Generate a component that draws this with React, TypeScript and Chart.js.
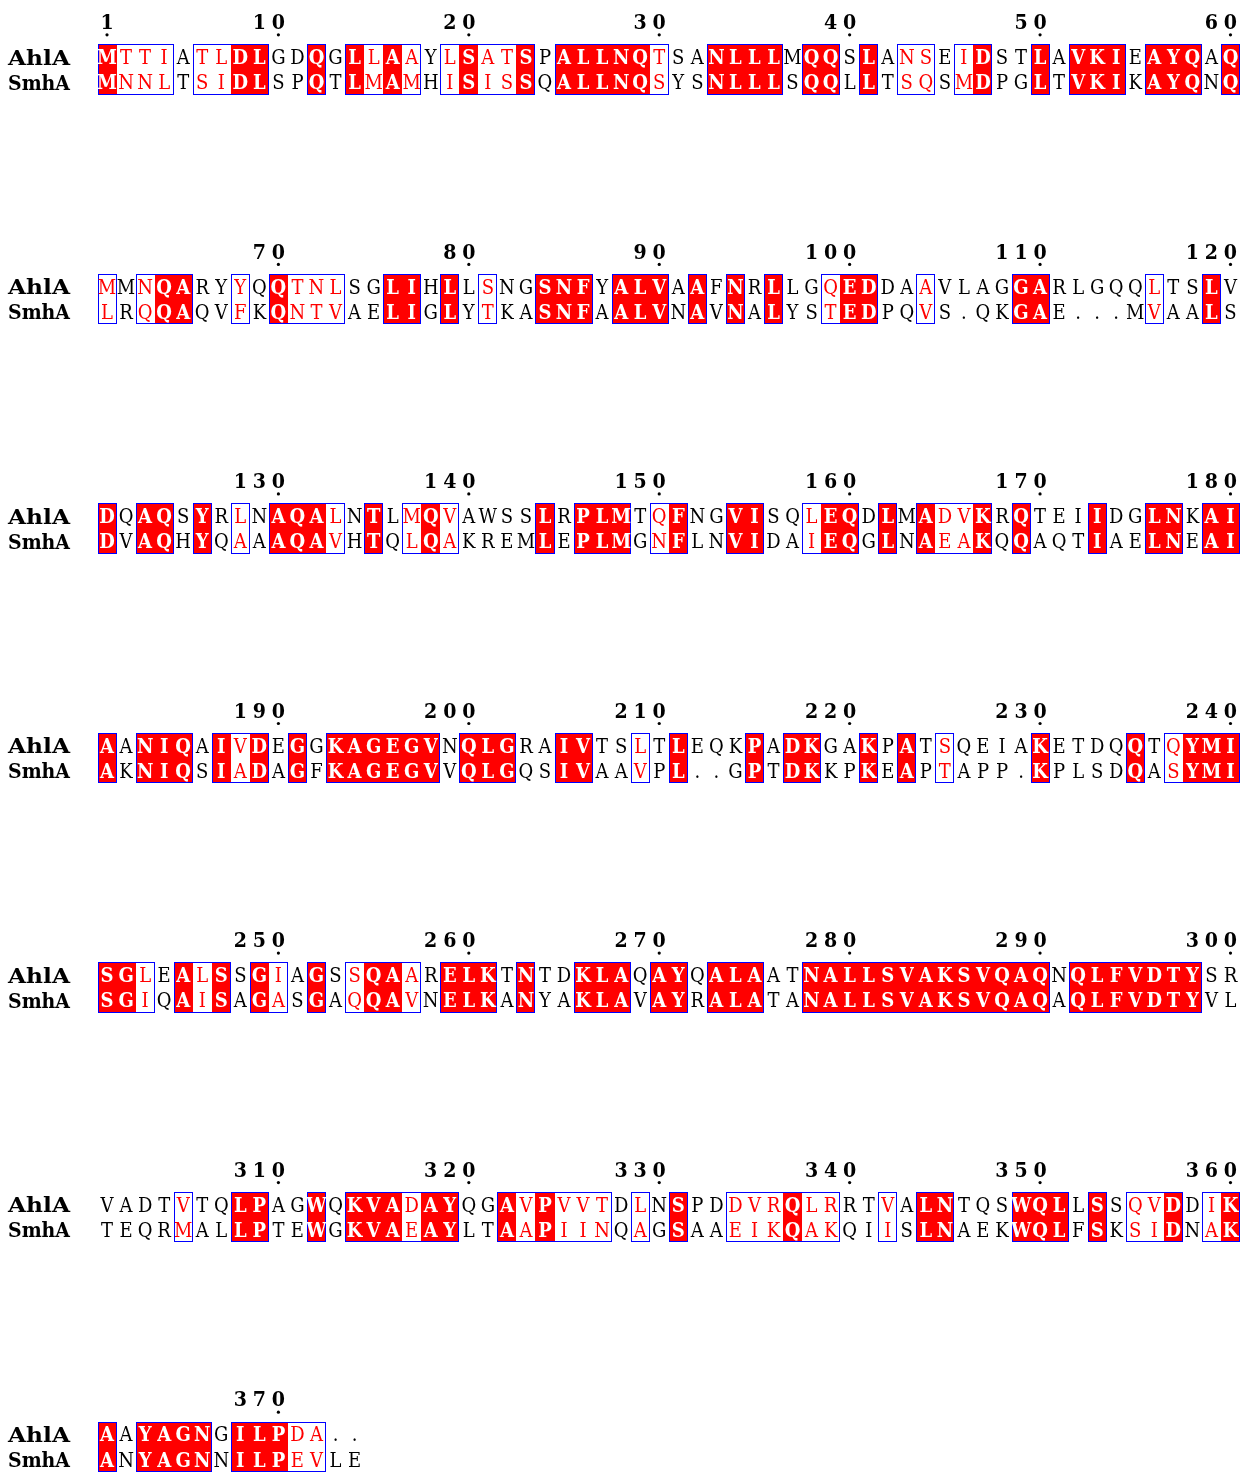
import React, { useEffect, useRef } from "react";
import { Chart, registerables } from "chart.js";

Chart.register(...registerables);

// ---------------- data ----------------
const sequenceNames = ["AhlA", "SmhA"];
const blockStarts = [1, 61, 121, 181, 241, 301, 361];

const ahlaBlocks = [
  "MTTIATLDLGDQGLLAAYLSATSPALLNQTSANLLLMQQSLANSEIDSTLAVKIEAYQAQ",
  "MMNQARYYQQTNLSGLIHLLSNGSNFYALVAAFNRLLGQEDDAAVLAGGARLGQQLTSLV",
  "DQAQSYRLNAQALNTLMQVAWSSLRPLMTQFNGVISQLEQDLMADVKRQTEIIDGLNKAI",
  "AANIQAIVDEGGKAGEGVNQLGRAIVTSLTLEQKPADKGAKPATSQEIAKETDQQTQYMI",
  "SGLEALSSGIAGSSQAARELKTNTDKLAQAYQALAATNALLSVAKSVQAQNQLFVDTYSR",
  "VADTVTQLPAGWQKVADAYQGAVPVVTDLNSPDDVRQLRRTVALNTQSWQLLSSQVDDIK",
  "AAYAGNGILPDA..",
];

const smhaBlocks = [
  "MNNLTSIDLSPQTLMAMHISISSQALLNQSYSNLLLSQQLLTSQSMDPGLTVKIKAYQNQ",
  "LRQQAQVFKQNTVAELIGLYTKASNFAALVNAVNALYSTEDPQVS.QKGAE...MVAALS",
  "DVAQHYQAAAQAVHTQLQAKREMLEPLMGNFLNVIDAIEQGLNAEAKQQAQTIAELNEAI",
  "AKNIQSIADAGFKAGEGVVQLGQSIVAAVPL..GPTDKKPKEAPTAPP.KPLSDQASYMI",
  "SGIQAISAGASGAQQAVNELKANYAKLAVAYRALATANALLSVAKSVQAQAQLFVDTYVL",
  "TEQRMALLPTEWGKVAEAYLTAAPIINQAGSAAEIKQAKQIISLNAEKWQLFSKSIDNAK",
  "ANYAGNNILPEVLE",
];

// r = identical (red box), s = similar (red letters, framed), n = not conserved
const conservationBlocks = [
  "rsssnssrrnnrnrsrsnsrssrnrrrrrsnnrrrrnrrnrnssnsrnnrnrrrnrrrnr",
  "snsrrnnsnrsssnnrrnrnsnnrrrnrrrnrnrnrnnsrrnnsnnnnrrnnnnnsnnrn",
  "rnrrnrnsnrrrsnrnsrsnnnnrnrrrnsrnnrrnnsrrnrnrssrnrnnnrnnrrnrr",
  "rnrrrnrsrnrnrrrrrrnrrrnnrrnnsnrnnnrnrrnnrnrnsnnnnrnnnnrnsrrr",
  "rrsnrsrnrsnrnsrrsnrrrnrnnrrrnrrnrrrnnrrrrrrrrrrrrrnrrrrrrrnn",
  "nnnnsnnrrnnrnrrrsrrnnrsrsssnsnrnnsssrssnnsnrrnnnrrrnrnssrnsr",
  "rnrrrrnrrrssnn",
];

const tickNumbers = [
  1, 10, 20, 30, 40, 50, 60, 70, 80, 90, 100, 110, 120, 130, 140, 150, 160,
  170, 180, 190, 200, 210, 220, 230, 240, 250, 260, 270, 280, 290, 300, 310,
  320, 330, 340, 350, 360, 370,
];

// ---------------- layout ----------------
const W = 1254;
const H = 1476;
const COLS = 60;
const BLOCK_PITCH = 230.8;
const LABEL_Y = 18;
const DOT_Y = 31;
const ROW_TOP = 40.5;
const ROW_H = 25.25;

const RED = "#ff0000";
const BLUE = "#0000ff";
const SERIF = '"DejaVu Serif", "Liberation Serif", serif';
const RES_SIZE = 20;
const RES_SX = 0.9;
const NAME_SIZE = 21;
const NAME_W = 62;
const NUM_SIZE = 20;
const NUM_SX = 0.95;
const CAP = 0.73;

function blockOf(n: number) {
  let b = 0;
  for (let i = 0; i < blockStarts.length; i++) if (n >= blockStarts[i]) b = i;
  return b;
}

function glyph(ctx: CanvasRenderingContext2D, ch: string, x: number, y: number, sx: number) {
  ctx.save();
  ctx.translate(x, y);
  ctx.scale(sx, 1);
  ctx.fillText(ch, 0, 0);
  ctx.restore();
}

const alignmentPlugin = {
  id: "alignment",
  afterDraw(chart: any) {
    const ctx: CanvasRenderingContext2D = chart.ctx;
    const xs = chart.scales.x;
    const ys = chart.scales.y;
    const edge = (i: number) => Math.round(xs.getPixelForValue(i + 0.5));
    ctx.save();
    blockStarts.forEach((start, b) => {
      const rows = [ahlaBlocks[b], smhaBlocks[b]];
      const cls = conservationBlocks[b];
      const off = b * BLOCK_PITCH;
      const top = Math.round(ys.getPixelForValue(off + ROW_TOP));
      const bot = Math.round(ys.getPixelForValue(off + ROW_TOP + 2 * ROW_H));

      // identical columns: red boxes
      ctx.fillStyle = RED;
      for (let i = 0; i < cls.length; i++) {
        if (cls[i] === "r") {
          const x0 = edge(i);
          const x1 = edge(i + 1);
          ctx.fillRect(x0, top, x1 - x0, bot - top);
        }
      }

      // frames around conserved runs
      ctx.strokeStyle = BLUE;
      ctx.lineWidth = 1;
      let i = 0;
      while (i < cls.length) {
        if (cls[i] !== "n") {
          let j = i;
          while (j + 1 < cls.length && cls[j + 1] !== "n") j++;
          const x0 = edge(i);
          const x1 = edge(j + 1);
          ctx.strokeRect(x0 + 0.5, top + 0.5, x1 - x0 - 1, bot - top - 1);
          i = j + 1;
        } else i++;
      }

      // residues
      ctx.textAlign = "center";
      ctx.textBaseline = "alphabetic";
      rows.forEach((seq, r) => {
        const cy = ys.getPixelForValue(off + ROW_TOP + (r + 0.5) * ROW_H);
        for (let k = 0; k < seq.length; k++) {
          const c = cls[k];
          const cx = xs.getPixelForValue(k + 1);
          if (c === "r") {
            ctx.font = `bold ${RES_SIZE}px ${SERIF}`;
            ctx.fillStyle = "#ffffff";
          } else if (c === "s") {
            ctx.font = `${RES_SIZE}px ${SERIF}`;
            ctx.fillStyle = RED;
          } else {
            ctx.font = `${RES_SIZE}px ${SERIF}`;
            ctx.fillStyle = "#000000";
          }
          glyph(ctx, seq[k], cx, cy + (RES_SIZE * CAP) / 2, RES_SX);
        }
        // sequence name, stretched to its column width
        ctx.font = `bold ${NAME_SIZE}px ${SERIF}`;
        ctx.fillStyle = "#000000";
        ctx.textAlign = "left";
        const name = sequenceNames[r];
        const wname = ctx.measureText(name).width;
        glyph(ctx, name, 8, cy + (NAME_SIZE * CAP) / 2, NAME_W / wname);
        ctx.textAlign = "center";
      });

      // numbering
      ctx.font = `bold ${NUM_SIZE}px ${SERIF}`;
      ctx.fillStyle = "#000000";
      const ly = ys.getPixelForValue(off + LABEL_Y);
      tickNumbers.forEach((n) => {
        if (blockOf(n) !== b) return;
        const col = n - start + 1;
        const s = String(n);
        for (let d = 0; d < s.length; d++) {
          const cx = xs.getPixelForValue(col - (s.length - 1 - d));
          glyph(ctx, s[d], cx, ly + (NUM_SIZE * CAP) / 2, NUM_SX);
        }
      });
    });
    ctx.restore();
  },
};

export default function App() {
  const ref = useRef<HTMLCanvasElement | null>(null);
  useEffect(() => {
    document.body.style.margin = "0";
    const canvas = ref.current;
    if (!canvas) return;
    const dots = tickNumbers.map((n) => {
      const b = blockOf(n);
      return { x: n - blockStarts[b] + 1, y: b * BLOCK_PITCH + DOT_Y };
    });
    const chart = new Chart(canvas, {
      type: "scatter",
      data: {
        datasets: [
          {
            data: dots,
            pointRadius: 1.6,
            pointBackgroundColor: "#000000",
            pointBorderWidth: 0,
          },
        ],
      },
      options: {
        responsive: false,
        animation: false,
        devicePixelRatio: 1,
        layout: { padding: { left: 97.5, right: W - 1240, top: 0, bottom: 0 } },
        scales: {
          x: { type: "linear", min: 0.5, max: COLS + 0.5, display: false },
          y: { type: "linear", min: 0, max: H, reverse: true, display: false },
        },
        plugins: { legend: { display: false }, tooltip: { enabled: false } },
      },
      plugins: [alignmentPlugin],
    });
    return () => chart.destroy();
  }, []);
  return (
    <canvas
      ref={ref}
      width={W}
      height={H}
      style={{ display: "block", width: W, height: H, background: "#ffffff" }}
    />
  );
}
